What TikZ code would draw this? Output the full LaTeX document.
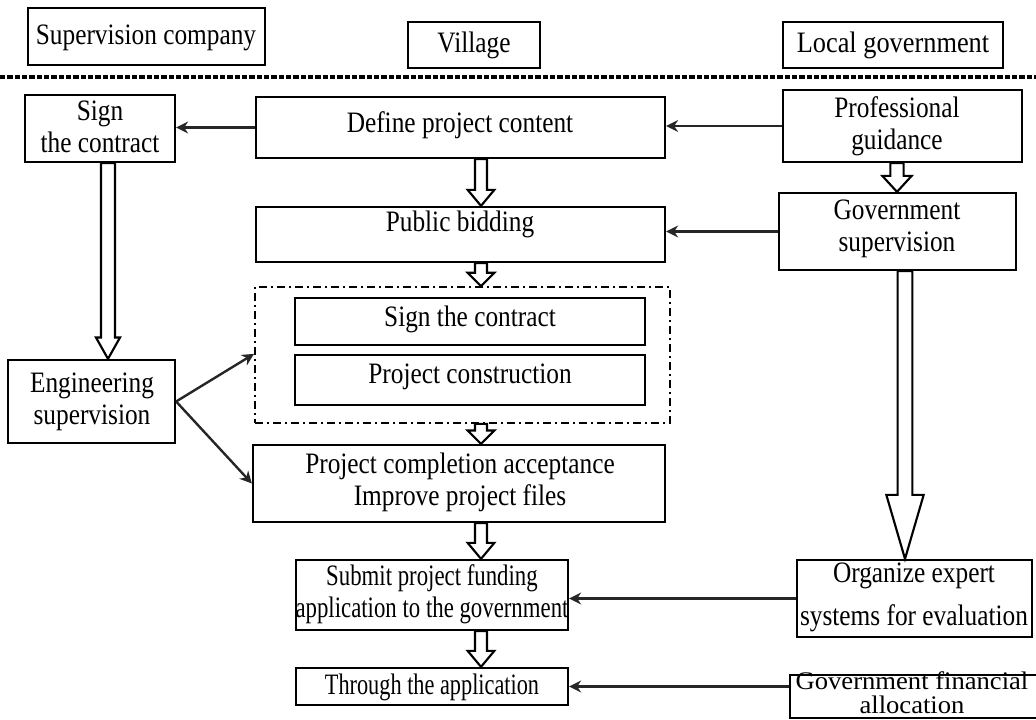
\documentclass[tikz,border=0pt]{standalone}
\usepackage{fontspec}
\usepackage{graphicx}
\setmainfont{Liberation Serif}
\usetikzlibrary{fit,calc,arrows.meta}
\tikzset{
  box/.style={draw, line width=1.7pt, inner sep=0pt, fill=white},
  dashbox/.style={draw, line width=1.4pt, inner sep=0pt, dash pattern=on 6pt off 3pt on 1.5pt off 3pt},
  txt/.style={font=\fontsize{19}{20.5}\selectfont, align=center, inner sep=0pt},
  conn/.style={line width=1.8pt, draw=black!85, -{Stealth[length=9pt,width=9pt]}},
  hollow/.style={draw, line width=1.6pt, fill=white, line join=miter},
  sepline/.style={line width=3pt, dash pattern=on 4pt off 1.5pt},
}
\newcommand\tall[3][1]{\scalebox{#1}[#2]{\begin{tabular}{@{}c@{}}#3\end{tabular}}}
\newcommand\harrow[5]{\draw[hollow] let \p1=#1, \p2=#2 in
  (\x1-#3,\y1) -- (\x1-#3,\y2+#5) -- (\x1-#4,\y2+#5) -- (\x1,\y2) --
  (\x1+#4,\y2+#5) -- (\x1+#3,\y2+#5) -- (\x1+#3,\y1) -- cycle;}
\begin{document}
\begin{tikzpicture}[x=0.75pt,y=-0.75pt]
\useasboundingbox (0,0) rectangle (1036,720);
% header
\node[box, fit={(28,8)(265,65)}] (supco) {};
\node[txt] (supco-t) at (146,38) {\tall{1.17}{Supervision company}};
\node[box, fit={(408,22)(540,68)}] (village) {};
\node[txt] (village-t) at (474,46) {\tall{1.17}{Village}};
\node[box, fit={(783,22)(1003,68)}] (locgov) {};
\node[txt] (locgov-t) at (893,46) {\tall[1.04]{1.17}{Local government}};
\coordinate (sepL) at (0,77);
\coordinate (sepR) at (1036,77);
\draw[sepline] (sepL) -- (sepR);
% axes for hollow arrows
\coordinate (axL) at (108,0);
\coordinate (axM) at (481,0);
\coordinate (axR1) at (897,0);
\coordinate (axR2) at (905,0);
% boxes
\node[box, fit={(25,95)(175,162)}] (signL) {};
\node[txt] (signL-t) at (100,130) {\tall{1.17}{Sign\\the contract}};
\node[box, fit={(256,97)(665,158)}] (define) {};
\node[txt] (define-t) at (460,126) {\tall{1.17}{Define project content}};
\node[box, fit={(783,90)(1022,162)}] (prof) {};
\node[txt] (prof-t) at (897,127) {\tall{1.17}{Professional\\guidance}};
\node[box, fit={(256,207)(665,262)}] (bid) {};
\node[txt] (bid-t) at (460,225) {\tall{1.17}{Public bidding}};
\node[box, fit={(779,193)(1016,270)}] (govsup) {};
\node[txt] (govsup-t) at (897,229) {\tall{1.17}{Government\\supervision}};
\node[dashbox, fit={(255,287)(670,423)}] (cont) {};
\node[box, fit={(295,298)(645,345)}] (signIn) {};
\node[txt] (signIn-t) at (470,320) {\tall{1.17}{Sign the contract}};
\node[box, fit={(295,355)(645,405)}] (constr) {};
\node[txt] (constr-t) at (470,377) {\tall{1.17}{Project construction}};
\node[box, fit={(8,360)(175,443)}] (eng) {};
\node[txt] (eng-t) at (92,402) {\tall{1.17}{Engineering\\supervision}};
\node[box, fit={(253,445)(665,522)}] (compl) {};
\node[txt] (compl-t) at (460,483) {\tall{1.17}{Project completion acceptance\\Improve project files}};
\node[box, fit={(296,560)(568,630)}] (submit) {};
\node[txt] (submit-t) at (432,595) {\tall[0.9]{1.17}{Submit project funding\\application to the government}};
\node[box, fit={(296,668)(568,705)}] (through) {};
\node[txt] (through-t) at (432,688) {\tall[0.88]{1.17}{Through the application}};
\node[box, fit={(797,560)(1032,637)}] (organize) {};
\node[txt] (organize-t) at (914,598) {\tall{1.17}{Organize expert\\[7pt]systems for evaluation}};
\node[box, fit={(790,675)(1045,718)}] (finalloc) {};
\node[txt, font=\fontsize{19}{16}\selectfont] (finalloc-t) at (912,696) {\tall[1.05]{1.0}{Government financial\\allocation}};
% connectors
\draw[conn] (define.west) -- (define.west -| signL.east);
\draw[conn] (prof.west) -- (prof.west -| define.east);
\draw[conn] (govsup.west) -- (govsup.west -| bid.east);
\draw[conn] (organize.west) -- (organize.west -| submit.east);
\draw[conn] (through.east -| finalloc.west) -- (through.east);
\draw[conn] (eng.east) -- (cont.west |- constr.north);
\draw[conn] (eng.east) -- (compl.west);
% hollow arrows
\harrow{(signL.south -| axL)}{(eng.north -| axL)}{5.25pt}{9pt}{16pt}
\harrow{(define.south -| axM)}{(bid.north -| axM)}{4.5pt}{10pt}{12pt}
\harrow{(bid.south -| axM)}{(cont.north -| axM)}{4.5pt}{10pt}{10pt}
\harrow{(cont.south -| axM)}{(compl.north -| axM)}{4.5pt}{10pt}{10pt}
\harrow{(compl.south -| axM)}{(submit.north -| axM)}{4.5pt}{10pt}{12pt}
\harrow{(submit.south -| axM)}{(through.north -| axM)}{4.5pt}{10pt}{12pt}
\harrow{(prof.south -| axR1)}{(govsup.north -| axR1)}{5pt}{11pt}{12pt}
\harrow{(govsup.south -| axR2)}{(organize.north -| axR2)}{5.5pt}{14pt}{48pt}
\end{tikzpicture}
\end{document}
